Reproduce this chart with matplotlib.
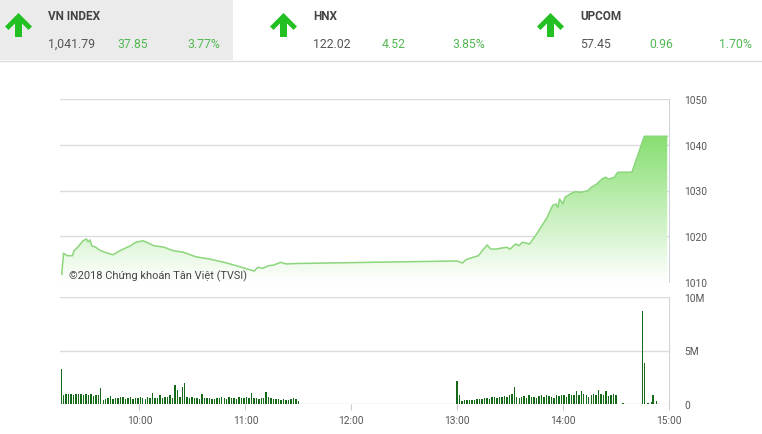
import matplotlib
matplotlib.use("Agg")
import matplotlib.pyplot as plt
import numpy as np
from matplotlib.colors import LinearSegmentedColormap
from matplotlib.patches import Polygon, Rectangle
from matplotlib.lines import Line2D

plt.rcParams['font.family'] = ['Roboto', 'DejaVu Sans']

# ---- data -------------------------------------------------------------
indices = ["VN INDEX", "HNX", "UPCOM"]
index_values = ["1,041.79", "122.02", "57.45"]
index_changes = ["37.85", "4.52", "0.96"]
index_pcts = ["3.77%", "3.85%", "1.70%"]

price_am_times = ["09:16", "09:17", "09:19", "09:22", "09:23", "09:25", "09:28", "09:30",
                  "09:31", "09:32", "09:33", "09:35", "09:38", "09:42", "09:45", "09:49",
                  "09:55", "09:58", "10:02", "10:04", "10:08", "10:14", "10:19", "10:25",
                  "10:32", "10:40", "10:48", "10:55", "11:01", "11:05", "11:07", "11:10",
                  "11:13", "11:16", "11:20", "11:23", "11:30"]
price_am = [1011.7, 1016.3, 1015.75, 1015.75, 1016.85, 1017.6, 1019.0, 1019.4,
            1018.75, 1019.2, 1017.9, 1017.65, 1016.85, 1016.3, 1015.95, 1016.85,
            1017.95, 1018.7, 1019.0, 1018.7, 1017.95, 1017.6, 1016.85, 1016.5,
            1015.5, 1015.0, 1014.3, 1013.55, 1012.85, 1012.4, 1013.2, 1013.0,
            1013.55, 1013.7, 1014.3, 1013.95, 1014.05]

price_pm_times = ["13:00", "13:03", "13:05", "13:09", "13:12", "13:15", "13:17", "13:19",
                  "13:22", "13:28", "13:30", "13:33", "13:35", "13:37", "13:41", "13:43",
                  "13:45", "13:48", "13:51", "13:54", "13:56", "13:57", "13:58", "14:00",
                  "14:01", "14:04", "14:07", "14:10", "14:14", "14:16", "14:19", "14:22",
                  "14:24", "14:26", "14:29", "14:31", "14:39", "14:46", "14:59"]
price_pm = [1014.6, 1014.15, 1014.9, 1015.4, 1015.75, 1017.2, 1018.1, 1017.2,
            1017.2, 1017.6, 1017.2, 1018.3, 1017.95, 1018.7, 1018.3, 1019.4,
            1020.5, 1022.3, 1024.15, 1026.7, 1027.05, 1026.3, 1028.15, 1027.05,
            1028.5, 1029.25, 1029.75, 1029.6, 1029.95, 1030.7, 1031.4, 1032.5,
            1032.9, 1032.5, 1032.9, 1034.0, 1034.0, 1041.85, 1041.85]

# volume in millions of shares
vol_am = [3.3,
          0.85, 0.9, 0.95, 0.9, 0.85, 0.9, 0.95, 0.9, 0.8, 0.95, 0.8, 0.9, 0.75, 0.85, 0.8,
          1.5,
          0.4, 0.5, 0.55, 0.75, 0.5, 0.6, 0.55, 0.7, 0.65, 0.5, 0.6, 0.7, 0.45, 0.55, 0.6,
          0.7, 0.55, 0.5, 0.65, 0.6, 1.0, 0.55, 0.6, 0.85, 0.6, 0.7, 0.65, 0.8, 0.6,
          1.75, 1.35, 0.7, 1.55, 2.0,
          0.7, 0.6, 0.65, 0.55, 0.6, 0.5, 0.95, 0.6, 0.55, 0.6, 0.5, 0.45, 0.6, 0.55, 0.7,
          0.6, 0.5, 0.65, 0.55, 0.6, 0.5, 0.7, 0.55, 0.6, 0.65,
          0.6, 1.0, 0.55, 0.6, 0.5, 0.55, 0.6, 1.1, 0.7, 0.55, 0.5, 0.45, 0.5, 0.4, 0.45,
          0.35, 0.4, 0.5, 0.55, 0.45, 0.3]
vol_pm = [2.15, 0.85,
          0.3, 0.35, 0.35, 0.4, 0.35, 0.4, 0.45,
          0.45, 0.5, 0.55, 0.6, 0.5, 0.7, 0.65, 0.6, 0.7, 0.65, 0.75, 0.7, 0.8, 0.9,
          1.55,
          0.65, 0.6, 0.7, 0.75, 0.6, 0.8, 0.7, 0.65, 0.6, 0.75, 0.8, 0.7, 0.85, 0.75, 0.7,
          0.6, 0.8, 0.75, 0.85, 0.8, 0.7, 0.9, 0.8, 0.85,
          1.2, 0.8, 1.25, 0.9, 0.8, 0.7, 0.85, 0.95, 0.8, 1.3, 0.9, 0.85, 1.25, 0.75, 0.8,
          0.9, 0.8]
vol_atc_times = ["14:34", "14:45", "14:46", "14:48", "14:50", "14:51", "14:53"]
vol_atc = [0.05, 8.7, 3.8, 0.1, 0.2, 0.85, 0.3]

hour_ticks = ["10:00", "11:00", "12:00", "13:00", "14:00", "15:00"]
price_ticks = [1010, 1020, 1030, 1040, 1050]
vol_ticks = [0, 5, 10]
vol_labels = ["0", "5M", "10M"]


def hrs(s):
    h, m = s.split(":")
    return int(h) + int(m) / 60.0


# ---- figure -------------------------------------------------------------
W, H = 762, 435
fig = plt.figure(figsize=(W / 100, H / 100), dpi=100)


def fx(x):
    return x / W


def fy(y):
    return 1 - y / H


# header
fig.patches.append(Rectangle((0, fy(61)), fx(233), 1 - fy(61), transform=fig.transFigure,
                             facecolor="#ebebeb", edgecolor="none", zorder=0))
fig.lines.append(Line2D([0, 1], [fy(61.5), fy(61.5)], transform=fig.transFigure,
                        color="#dddddd", lw=1))

arrow_px = [(18.5, 14), (32, 27.5), (28.5, 31), (22, 24.5), (22, 38), (15, 38),
            (15, 24.5), (8.5, 31), (5, 27.5)]
green_txt = "#52b852"
header_x = [0, 265, 532]
for k, name in enumerate(indices):
    dx = header_x[k]
    pts = [(fx(x + dx), fy(y)) for x, y in arrow_px]
    fig.patches.append(Polygon(pts, closed=True, transform=fig.transFigure,
                               facecolor="#22c022", edgecolor="none"))
    fig.text(fx(48 + dx), fy(17), name, fontsize=8.5, fontweight="bold",
             color="#444444", va="center", ha="left")
    fig.text(fx(48 + dx), fy(44), index_values[k], fontsize=8.8,
             color="#555555", va="center", ha="left")
    fig.text(fx(117 + dx), fy(44), index_changes[k], fontsize=8.8,
             color=green_txt, va="center", ha="left")
    fig.text(fx(220 + dx), fy(44), index_pcts[k], fontsize=8.8,
             color=green_txt, va="center", ha="right")

x0, x1 = 9.25, 15.0
grid_c = "#dcdcdc"
lab_c = "#555555"

# ---- price axes ---------------------------------------------------------
ax = fig.add_axes([fx(60), fy(283), fx(669) - fx(60), fy(100) - fy(283)])
t_price = [hrs(s) for s in price_am_times + price_pm_times]
p = price_am + price_pm

green = (0.52, 0.87, 0.43)
cmap = LinearSegmentedColormap.from_list("fade", [(1, 1, 1), green])
poly = ax.fill_between(t_price, p, 1010, color="none", lw=0)
grad = np.linspace(1, 0, 256).reshape(-1, 1)
img = ax.imshow(grad, cmap=cmap, aspect="auto", extent=[x0, x1, 1010, 1042.5],
                origin="upper", zorder=1, vmin=0, vmax=1)
img.set_clip_path(poly.get_paths()[0], transform=ax.transData)
ax.plot(t_price, p, color="#8cd67c", lw=1.1, zorder=3)

ax.set_xlim(x0, x1)
ax.set_ylim(1010, 1050)
ax.set_yticks(price_ticks)
ax.yaxis.tick_right()
ax.tick_params(axis="y", length=0, pad=11, labelsize=7.3, labelcolor=lab_c)
ax.set_xticks([])
ax.grid(axis="y", color=grid_c, lw=1)
ax.set_axisbelow(True)
for s in ["top", "left", "bottom"]:
    ax.spines[s].set_visible(False)
ax.spines["right"].set_color("#cfd4dc")
ax.text(0.015, 0.008, "©2018 Chứng khoán Tân Việt (TVSI)", transform=ax.transAxes,
        fontsize=7.9, color="#444444", ha="left", va="bottom", zorder=5)

# ---- volume axes --------------------------------------------------------
av = fig.add_axes([fx(60), fy(405), fx(669) - fx(60), fy(298) - fy(405)])
t_am = np.linspace(hrs("09:15") + 0.012, hrs("11:30"), len(vol_am))
t_pm = np.linspace(hrs("13:00"), hrs("14:30"), len(vol_pm))
t_atc = [hrs(s) for s in vol_atc_times]
bar_c = "#17691a"
bw = 0.0135
av.bar(t_am, vol_am, width=bw, color=bar_c, lw=0, zorder=3)
av.bar(t_pm, vol_pm, width=bw, color=bar_c, lw=0, zorder=3)
av.bar(t_atc, vol_atc, width=bw, color=bar_c, lw=0, zorder=3)

av.set_xlim(x0, x1)
av.set_ylim(0, 10)
av.set_yticks(vol_ticks)
av.set_yticklabels(vol_labels)
av.yaxis.tick_right()
av.tick_params(axis="y", length=0, pad=11, labelsize=7.3, labelcolor=lab_c)
av.set_xticks([hrs(s) for s in hour_ticks])
av.set_xticklabels(hour_ticks)
av.tick_params(axis="x", length=4, color="#cccccc", labelsize=7.3, labelcolor=lab_c, pad=4)
av.grid(axis="y", color=grid_c, lw=1)
av.set_axisbelow(True)
for s in ["top", "left", "bottom"]:
    av.spines[s].set_visible(False)
av.spines["right"].set_color("#cfd4dc")

fig.savefig("out.png", dpi=100)
